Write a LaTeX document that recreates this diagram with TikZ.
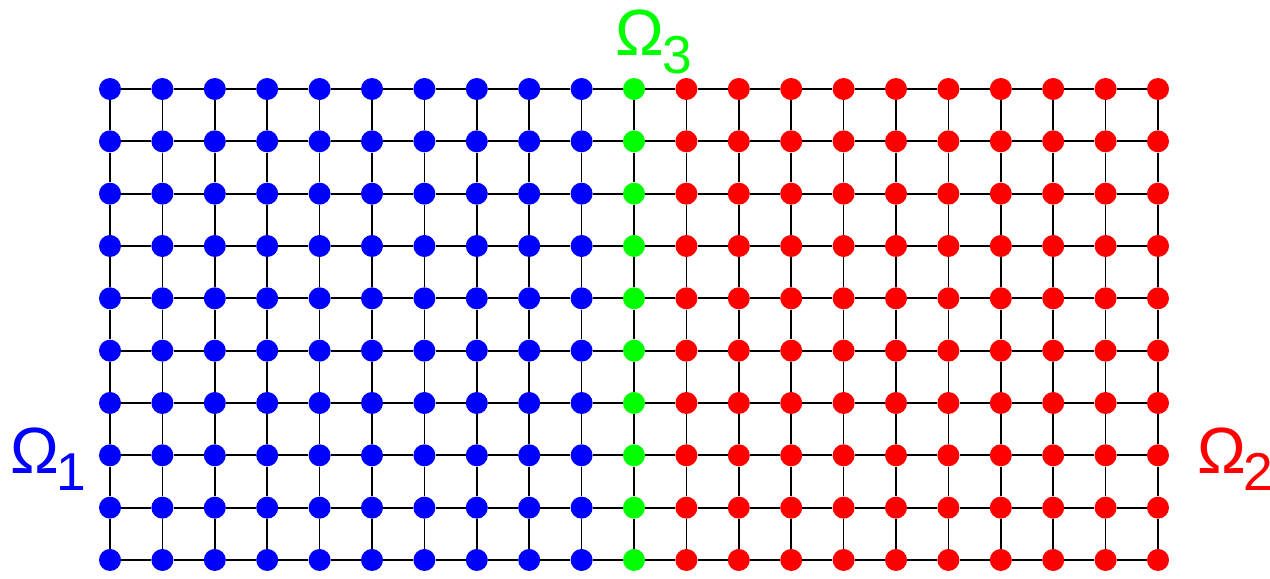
\documentclass[tikz,border=0pt]{standalone}
\usepackage{fontspec}
\setmainfont{Liberation Sans}
\definecolor{cblue}{RGB}{0,0,255}
\definecolor{cgreen}{RGB}{0,255,0}
\definecolor{cred}{RGB}{255,0,0}
\begin{document}
\begin{tikzpicture}[x=0.75pt,y=-0.75pt,
  dot/.style={circle,inner sep=0pt,minimum size=16.5pt},
  link/.style={draw=black,line width=1.3pt},
  omega/.style={inner sep=0pt,anchor=base west,font=\fontsize{49}{49}\selectfont},
  subdigit/.style={inner sep=0pt,anchor=base west,font=\fontsize{40}{40}\selectfont}]
\useasboundingbox (0,0) rectangle (1270,578);
\foreach \i in {0,...,20}{
  \foreach \j in {0,...,9}{
    \pgfmathsetmacro\xx{110+52.4*\i}
    \pgfmathsetmacro\yy{89+52.33*\j}
    \ifnum\i<10 \def\cc{cblue}\else\ifnum\i=10 \def\cc{cgreen}\else\def\cc{cred}\fi\fi
    \node[dot,fill=\cc] (n-\i-\j) at (\xx,\yy) {};
  }
}
\begin{scope}[on background layer/.style={}]
\foreach \i in {0,...,19}{
  \pgfmathtruncatemacro\k{\i+1}
  \foreach \j in {0,...,9}{
    \draw[link] (n-\i-\j) -- (n-\k-\j);
  }
}
\foreach \i in {0,...,20}{
  \foreach \j in {0,...,8}{
    \pgfmathtruncatemacro\k{\j+1}
    \draw[link] (n-\i-\j) -- (n-\i-\k);
  }
}
\end{scope}
\node[omega,text=cblue] (o1) at (10,473) {Ω};
\node[subdigit,text=cblue] (s1) at (56,490) {1};
\node[omega,text=cgreen] (o3) at (615,55) {Ω};
\node[subdigit,text=cgreen] (s3) at (662,73) {3};
\node[omega,text=cred] (o2) at (1197,473) {Ω};
\node[subdigit,text=cred] (s2) at (1243,490) {2};
\end{tikzpicture}
\end{document}
